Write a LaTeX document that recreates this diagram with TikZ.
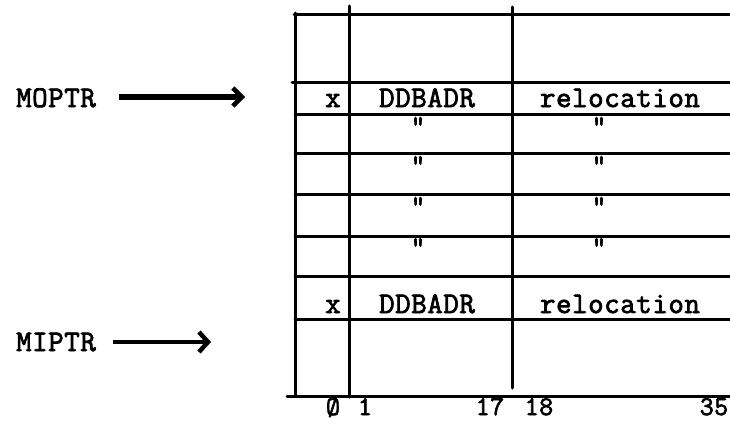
\documentclass[tikz,border=0pt]{standalone}
\usepackage{fontspec}
\setmonofont[LetterSpace=2,FakeBold=2.5]{Latin Modern Mono}
\usetikzlibrary{arrows.meta}
\begin{document}
\begin{tikzpicture}[x=1pt,y=-1pt,
  grid/.style={line width=3pt,line cap=round},
  lbl/.style={font=\fontsize{30}{30}\ttfamily,inner sep=0pt,anchor=base},
  num/.style={font=\fontsize{27}{27}\ttfamily,inner sep=0pt,anchor=base},
  ditto/.style={font=\fontsize{28}{28}\ttfamily,inner sep=0pt,anchor=north},
  ptrA/.style={line width=6pt,-{Straight Barb[length=9pt,width=18pt,line width=4.5pt]}},
  ptrB/.style={line width=4.5pt,-{Straight Barb[length=9pt,width=20pt,line width=4.5pt]}}]
\useasboundingbox (0,0) rectangle (730,423);
% horizontal lines
\draw[grid] (294,14) -- (730,14);
\draw[grid] (292,82) -- (730,82);
\foreach \yy in {114,153,194,236,276,319}
  \draw[grid] (295,\yy) -- (730,\yy);
\draw[grid] (287,396) -- (730,396);
% vertical lines
\draw[grid] (295,13) -- (295,396);
\draw[grid] (349,6) -- (349,397);
\draw[grid] (512,7) -- (512,388);
% first entry row
\node[lbl] (x1) at (333,107) {x};
\node[lbl] (d1) at (427,107) {DDBADR};
\node[lbl] (r1) at (620,107) {relocation};
% ditto rows
\foreach \yy/\nn in {117/a,156/b,197/c,238/d}{
  \node[ditto] (dd\nn) at (418,\yy) {"};
  \node[ditto] (dr\nn) at (599,\yy) {"};
}
% second entry row
\node[lbl] (x2) at (333,313) {x};
\node[lbl] (d2) at (427,313) {DDBADR};
\node[lbl] (r2) at (620,313) {relocation};
% bit numbers
\node[num] (b0) at (333,415) {Ø};
\node[num] (b1) at (365,415) {1};
\node[num] (b17) at (490,415) {17};
\node[num] (b18) at (539,415) {18};
\node[num] (b35) at (714,415) {35};
% pointers
\node[lbl] (moptr) at (56,107) {MOPTR};
\node[lbl] (miptr) at (56,351) {MIPTR};
\coordinate (moS) at (119,97);
\coordinate (moE) at (245,97);
\coordinate (miS) at (113,342);
\coordinate (miE) at (211,342);
\draw[ptrA] (moS) -- (moE);
\draw[ptrB] (miS) -- (miE);
\end{tikzpicture}
\end{document}
